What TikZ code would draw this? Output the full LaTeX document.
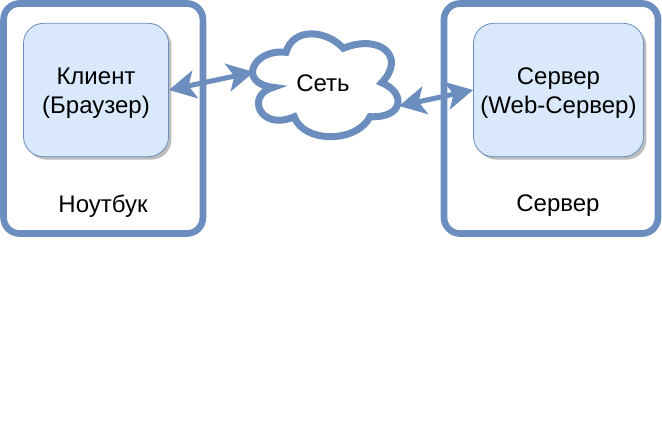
\documentclass[tikz,border=0pt]{standalone}
\usepackage{fontspec}
\setmainfont{Liberation Sans}
\usepackage{xcolor}
\usetikzlibrary{arrows.meta, shadows}
\definecolor{edgeblue}{HTML}{6C8EBF}
\definecolor{fillblue}{HTML}{DAE8FC}
\definecolor{shadowgray}{HTML}{BDBDBD}

\begin{document}
\begin{tikzpicture}[
    x=0.75pt, y=-0.75pt,
    every node/.style={font=\fontsize{18}{21.6}\selectfont, align=center, inner sep=0pt},
    hostbox/.style={draw=edgeblue, line width=5pt, rounded corners=12pt, minimum height=172.5pt},
    appbox/.style={draw=edgeblue, line width=0.6pt, fill=fillblue, rounded corners=15pt, minimum height=100pt,
        drop shadow={shadow xshift=2.2pt, shadow yshift=-2.2pt, fill=shadowgray, opacity=1}},
    link/.style={draw=edgeblue, line width=3.75pt, {Stealth[length=20pt, width=21pt, inset=5pt]}-{Stealth[length=20pt, width=21pt, inset=5pt]}},
]
    \useasboundingbox (0, 0) rectangle (662, 444);

    \node[hostbox, minimum width=149.5pt] (laptop) at (103.25, 118.5) {};
    \node[hostbox, minimum width=160.5pt] (server) at (551, 118.5) {};

    \node[appbox, minimum width=108.75pt] (client) at (96, 90) {};
    \node[appbox, minimum width=127.5pt] (webserver) at (558.5, 90) {};
    \node (clienttext) at (96, 93) {Клиент\\(Браузер)};
    \node (webservertext) at (558.5, 93) {Сервер\\(Web-Сервер)};

    % Cloud outline
    \draw[draw=edgeblue, line width=5.25pt, fill=white, miter limit=10]
        (286, 52.3) .. controls (253.3, 48.3) and (236.7, 83.3) .. (273.3, 87.3)
        .. controls (245, 95) and (260, 131.7) .. (294.3, 116.7)
        .. controls (303.3, 143.3) and (356.7, 143.3) .. (370, 116.7)
        .. controls (403.3, 118.3) and (406.7, 93.3) .. (381.7, 82.7)
        .. controls (406.7, 56.7) and (380, 33.3) .. (343.3, 48.3)
        .. controls (326.7, 30) and (293.3, 26.7) .. (286, 52.3) -- cycle;
    \node (net) at (323, 83) {Сеть};
    \coordinate (netwest) at (254, 72);
    \coordinate (neteast) at (399, 106);

    \node (laptoplabel) at (103, 206) {Ноутбук};
    \node (serverlabel) at (558, 206) {Сервер};

    \draw[link] (client.east) -- (netwest);
    \draw[link] (neteast) -- (webserver.west);
\end{tikzpicture}
\end{document}
